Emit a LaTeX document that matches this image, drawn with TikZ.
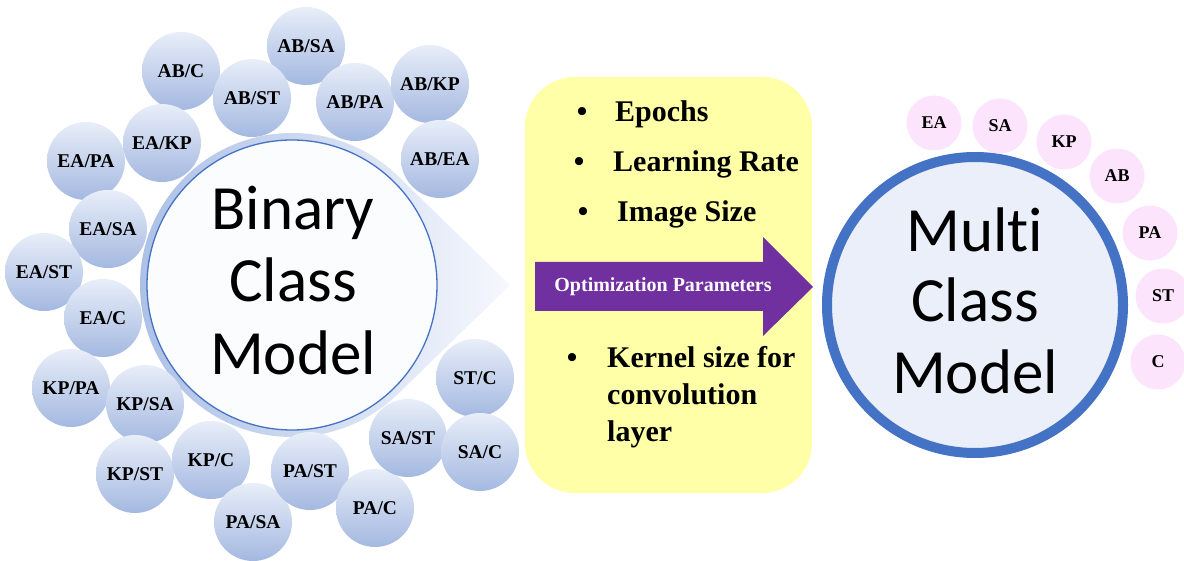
\documentclass[tikz,border=0pt]{standalone}
\usepackage{fontspec}
\setmainfont{Liberation Serif}
\newfontfamily\calib[Ligatures=NoCommon]{Carlito}
\definecolor{sbtop}{RGB}{232,238,249}
\definecolor{sbbot}{RGB}{164,184,224}
\definecolor{ringl}{RGB}{170,190,229}
\definecolor{ringr}{RGB}{246,248,253}
\definecolor{ringblue}{RGB}{68,114,196}
\definecolor{yellowc}{RGB}{255,255,168}
\definecolor{purplec}{RGB}{112,48,160}
\definecolor{pinkc}{RGB}{252,228,252}
\definecolor{multifill}{RGB}{234,239,249}
\definecolor{innerfill}{RGB}{251,252,254}
\begin{document}
\begin{tikzpicture}[x=1pt,y=1pt,
  small/.style={circle, minimum size=78pt, inner sep=0pt, top color=sbtop, bottom color=sbbot, font=\bfseries\fontsize{19.5}{20}\selectfont},
  pinkball/.style={circle, minimum size=55pt, inner sep=0pt, fill=pinkc, font=\bfseries\fontsize{18}{18}\selectfont},
  bigtext/.style={font=\calib\fontsize{63}{63}\selectfont, anchor=base, inner sep=0pt},
  bullet/.style={font=\bfseries\fontsize{30}{30}\selectfont, anchor=base, inner sep=0pt},
  item/.style={font=\bfseries\fontsize{30}{30}\selectfont, anchor=base west, inner sep=0pt}]
\useasboundingbox (0,0) rectangle (1184,-561);
% binary model: shaded circle with pointer
\shade[left color=ringl, right color=ringr]
  (292,-285) ++(45.8:152) arc[start angle=45.8, end angle=314.2, radius=152] -- (510,-285) -- cycle;
\node[circle, minimum size=290pt, inner sep=0pt, fill=innerfill, draw=ringblue, line width=1.3pt] (binary) at (292,-285) {};
\node[bigtext] (b1) at (293,-230) {Binary};
\node[bigtext] (b2) at (293,-302) {Class};
\node[bigtext] (b3) at (293,-374) {Model};
% small circles
\node[small] (abc) at (181,-71) {AB/C};
\node[small] (absa) at (306,-46) {AB/SA};
\node[small] (abst) at (252,-98) {AB/ST};
\node[small] (abpa) at (355,-102) {AB/PA};
\node[small] (abkp) at (430,-84) {AB/KP};
\node[small] (abea) at (440,-159) {AB/EA};
\node[small] (eapa) at (86,-161) {EA/PA};
\node[small] (eakp) at (162,-143) {EA/KP};
\node[small] (easa) at (108,-229) {EA/SA};
\node[small] (east) at (44,-272) {EA/ST};
\node[small] (eac) at (103,-318) {EA/C};
\node[small] (kppa) at (71,-388) {KP/PA};
\node[small] (kpsa) at (145,-404) {KP/SA};
\node[small] (kpst) at (135,-474) {KP/ST};
\node[small] (kpc) at (211,-460) {KP/C};
\node[small] (pasa) at (253,-522) {PA/SA};
\node[small] (past) at (310,-471) {PA/ST};
\node[small] (pac) at (375,-508) {PA/C};
\node[small] (sast) at (408,-438) {SA/ST};
\node[small] (stc) at (475,-378) {ST/C};
\node[small] (sac) at (480,-452) {SA/C};
% parameter box
\node[fill=yellowc, rounded corners=50pt, minimum width=287pt, minimum height=416pt, inner sep=0pt] (params) at (668.5,-285) {};
\node[bullet] (d1) at (582,-122) {•};
\node[item] (t1) at (615,-122) {Epochs};
\node[bullet] (d2) at (579,-172) {•};
\node[item] (t2) at (613,-172) {Learning Rate};
\node[bullet] (d3) at (583,-222) {•};
\node[item] (t3) at (617,-222) {Image Size};
\node[bullet] (d4) at (572,-368) {•};
\node[item] (t4) at (607,-368) {Kernel size for};
\node[item] (t5) at (607,-405) {convolution};
\node[item] (t6) at (607,-441) {layer};
% purple arrow
\fill[purplec] (535,-262) -- (763,-262) -- (763,-237) -- (813,-287) -- (763,-336) -- (763,-311) -- (535,-311) -- cycle;
\node[font=\bfseries\fontsize{20}{20}\selectfont, text=white, inner sep=0pt] (opt) at (663,-287) {Optimization Parameters};
% multi class model
\node[circle, minimum size=296pt, inner sep=0pt, fill=multifill, draw=ringblue, line width=10pt] (multi) at (975,-305) {};
\node[bigtext] (m1) at (975,-252) {Mult\kern0pt i};
\node[bigtext] (m2) at (975,-322) {Class};
\node[bigtext] (m3) at (975,-393) {Model};
% pink class circles
\node[pinkball] (ea) at (934,-123) {EA};
\node[pinkball] (sa) at (1000,-126) {SA};
\node[pinkball] (kp) at (1064,-142) {KP};
\node[pinkball] (ab) at (1117,-176) {AB};
\node[pinkball] (pa) at (1150,-233) {PA};
\node[pinkball] (st) at (1163,-296) {ST};
\node[pinkball] (c) at (1158,-362) {C};
\end{tikzpicture}
\end{document}
